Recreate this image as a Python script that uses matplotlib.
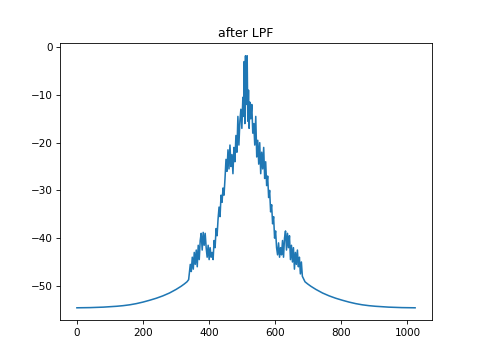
import matplotlib
matplotlib.use("Agg")
import matplotlib.pyplot as plt

# smooth skirt on the left (bin index, dB)
left_x = [0, 20, 40, 60, 80, 100, 120, 140, 160, 180, 200, 220, 240, 260,
          280, 300, 315, 325, 333, 338]
left_y = [-54.6, -54.59, -54.56, -54.52, -54.46, -54.38, -54.28, -54.15,
          -53.97, -53.72, -53.4, -53.02, -52.6, -52.1, -51.5, -50.75, -50.1,
          -49.6, -49.15, -48.7]

# noisy pass band
mid_x = [340, 343, 346, 349, 352, 355, 358, 361, 364, 367, 370, 373, 376, 379,
         382, 385, 388, 391, 394, 397, 400, 403, 406, 409, 412, 415, 418, 421,
         424, 427, 430, 433, 436, 439, 442, 445, 448, 451, 454, 457, 460, 463,
         466, 469, 472, 475, 478, 481, 484, 487, 490, 493, 496, 499, 502, 504,
         506, 508, 510, 512, 514, 515, 517, 519, 521, 523, 526, 529, 532, 535,
         538, 541, 544, 547, 550, 553, 556, 559, 562, 565, 568, 571, 574, 577,
         580, 583, 586, 589, 592, 595, 598, 601, 604, 607, 610, 613, 616, 619,
         622, 625, 628, 631, 634, 637, 640, 643, 646, 649, 652, 655, 658, 661,
         664, 667, 670, 673, 676, 679, 682, 686]
mid_y = [-47.5, -45.5, -47.0, -44.0, -46.5, -43.0, -45.5, -42.5, -46.0, -41.5,
         -44.5, -40.5, -39.0, -42.5, -38.8, -41.5, -39.0, -42.0, -44.0, -41.5,
         -44.5, -42.0, -44.0, -43.0, -44.5, -40.5, -42.0, -38.0, -39.5, -36.0,
         -33.5, -35.5, -31.0, -32.5, -29.5, -31.0, -27.5, -23.5, -26.0, -21.5,
         -25.5, -20.5, -25.0, -22.5, -26.5, -21.0, -24.0, -18.5, -22.0, -14.5,
         -20.5, -15.5, -13.0, -17.0, -10.5, -14.5, -3.0, -16.0, -1.8, -12.0,
         -5.0, -1.8, -15.5, -9.0, -17.0, -11.5, -15.0, -12.0, -18.0, -16.0,
         -20.5, -14.5, -23.0, -19.5, -24.5, -20.0, -26.5, -22.0, -25.5, -21.0,
         -27.5, -24.0, -29.0, -27.0, -31.5, -30.0, -34.5, -33.0, -37.0, -35.5,
         -40.0, -38.5, -42.0, -43.5, -41.0, -44.0, -42.0, -43.5, -40.5, -44.0,
         -40.0, -38.5, -42.5, -39.0, -42.0, -39.5, -44.5, -41.5, -45.0, -42.0,
         -46.5, -43.0, -45.5, -42.5, -46.0, -44.0, -47.5, -45.0, -48.0, -48.6]

# smooth skirt on the right
right_x = [690, 698, 708, 723, 743, 763, 783, 803, 823, 843, 863, 883, 903,
           923, 943, 963, 983, 1003, 1023]
right_y = [-49.15, -49.6, -50.1, -50.75, -51.5, -52.1, -52.6, -53.02, -53.4,
           -53.72, -53.97, -54.15, -54.28, -54.38, -54.46, -54.52, -54.56,
           -54.59, -54.6]

x = left_x + mid_x + right_x
y = left_y + mid_y + right_y

plt.figure(figsize=(6.4, 4.8))
plt.plot(x, y)
plt.title("after LPF")
plt.savefig("out.png", dpi=75)
